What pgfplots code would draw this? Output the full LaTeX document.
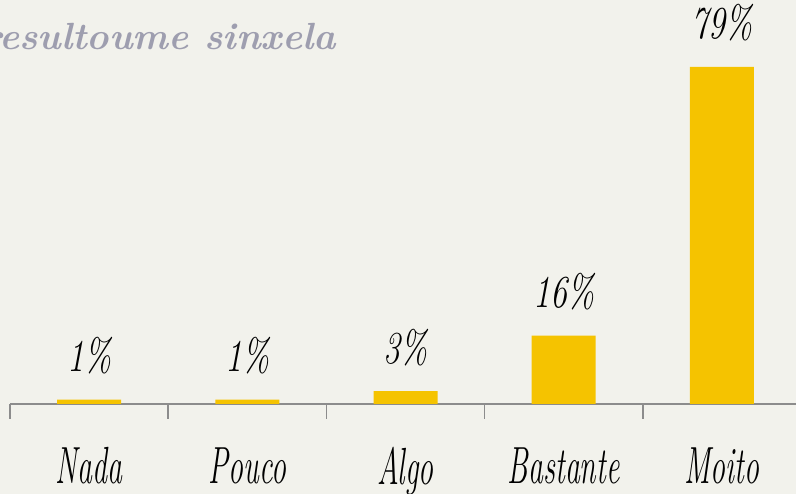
\documentclass[border=0pt]{standalone}
\usepackage{graphicx}
\usepackage{pgfplots}
\pgfplotsset{compat=1.18}
\definecolor{bgcol}{HTML}{F2F2EC}
\definecolor{gold}{HTML}{F5C300}
\definecolor{titlecol}{HTML}{9E9EAF}
\definecolor{axcol}{HTML}{8C8C8C}
\newcommand\hw[1]{\scalebox{1}[1.35]{#1}}
\newcommand\hx[1]{\scalebox{1}[1.75]{#1}}
\begin{document}
\begin{tikzpicture}[x=1bp,y=1bp]
\clip (0,0) rectangle (796,494);
\fill[bgcol] (0,0) rectangle (796,494);
\node[anchor=base west, inner sep=0pt, text=titlecol, font=\fontsize{38}{38}\selectfont\bfseries\itshape] at (-18,444) {resultoume sinxela};
\begin{axis}[
  at={(10bp,90bp)}, anchor=south west,
  scale only axis, width=791bp, height=384bp,
  xmin=-0.5, xmax=4.5, ymin=0, ymax=90,
  axis y line=none,
  axis x line*=bottom,
  x axis line style={draw=axcol, line width=1.6bp},
  xtick={0,1,2,3,4},
  xticklabels={\hx{Nada},\hx{Pouco},\hx{Algo},\hx{Bastante},\hx{Moito}},
  xticklabel style={yshift=-40bp, font=\fontsize{30}{30}\selectfont\itshape, text=black},
  major tick length=0pt,
  tick align=outside,
  x tick style={draw=none},
  extra x ticks={-0.5,0.5,1.5,2.5,3.5,4.5},
  extra x tick labels={},
  extra x tick style={major tick length=15bp, tick align=outside, x tick style={draw=axcol, line width=1.6bp}},
  clip=false,
]
\addplot[ybar, bar width=64bp, fill=gold, draw=none,
  nodes near coords={\hw{\pgfmathprintnumber{\pgfplotspointmeta}\%}},
  every node near coord/.append style={anchor=center, yshift=44bp, font=\fontsize{34}{34}\selectfont\itshape, text=black, /pgf/number format/assume math mode=true}
] coordinates {(0,1) (1,1) (2,3) (3,16) (4,79)};
\end{axis}
\end{tikzpicture}
\end{document}
